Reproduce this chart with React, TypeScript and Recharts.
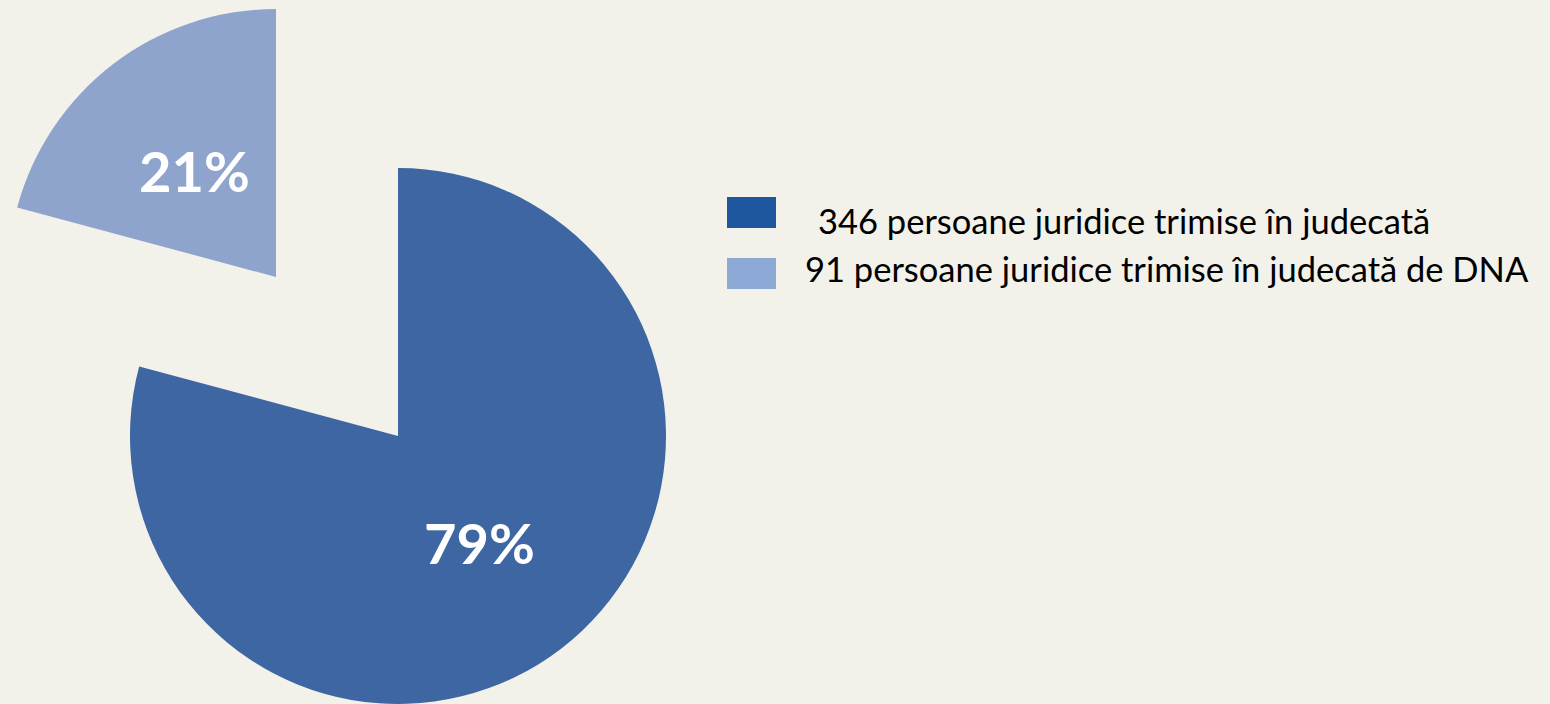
import { Cell, Legend, Pie, PieChart } from "recharts";

// persoane juridice trimise în judecată
const names = [
  "346 persoane juridice trimise în judecată",
  "91 persoane juridice trimise în judecată de DNA",
];
const values = [346, 91];
const sliceColors = ["#3D66A2", "#8FA4CC"];
const legendColors = ["#1E56A0", "#8DAAD7"];

const data = names.map((name, i) => ({ name, value: values[i] }));

const BG = "#F2F1EA";
const R = 268;

// the 21% slice is pulled out of the pie, so it is drawn by a second Pie
// sharing the same data and angles, with the other slice left empty.
const makeLabel = (only: number) => (props: any) => {
  const { cx, cy, midAngle, outerRadius, percent, index } = props;
  if (index !== only) return null;
  const rad = (Math.PI / 180) * midAngle;
  const r = outerRadius * 0.5;
  const x = cx + r * Math.cos(rad);
  const y = cy - r * Math.sin(rad);
  return (
    <text
      x={x}
      y={y}
      fill="#ffffff"
      textAnchor="middle"
      dominantBaseline="central"
      style={{ fontFamily: "Lato, sans-serif", fontWeight: 700, fontSize: 56 }}
    >
      {`${Math.round(percent * 100)}%`}
    </text>
  );
};

function LegendBox() {
  return (
    <svg width={830} height={110} style={{ display: "block" }}>
      {names.map((n, i) => (
        <g key={n}>
          <rect x={7} y={7 + i * 61} width={49} height={31} fill={legendColors[i]} />
          <text
            x={i === 0 ? 98 : 85}
            y={44 + i * 47.5}
            fill="#000000"
            style={{ fontFamily: "Lato, sans-serif", fontSize: 34.5 }}
          >
            {n}
          </text>
        </g>
      ))}
    </svg>
  );
}

export default function App() {
  return (
    <div style={{ position: "absolute", left: 0, top: 0, width: 1550, height: 704, background: BG }}>
      <PieChart width={1550} height={704} margin={{ top: 0, right: 0, bottom: 0, left: 0 }}>
        <Pie
          data={data}
          dataKey="value"
          nameKey="name"
          cx={398}
          cy={436}
          outerRadius={R}
          startAngle={90}
          endAngle={-270}
          stroke="none"
          label={makeLabel(0)}
          labelLine={false}
          isAnimationActive={false}
        >
          {data.map((d, i) => (
            <Cell key={d.name} fill={i === 0 ? sliceColors[0] : "transparent"} />
          ))}
        </Pie>
        <Pie
          data={data}
          dataKey="value"
          nameKey="name"
          cx={276}
          cy={277}
          outerRadius={R}
          startAngle={90}
          endAngle={-270}
          stroke="none"
          label={makeLabel(1)}
          labelLine={false}
          isAnimationActive={false}
        >
          {data.map((d, i) => (
            <Cell key={d.name} fill={i === 1 ? sliceColors[1] : "transparent"} />
          ))}
        </Pie>
        <Legend
          content={() => <LegendBox />}
          wrapperStyle={{ position: "absolute", left: 720, top: 190, width: 830, height: 110 }}
        />
      </PieChart>
    </div>
  );
}
